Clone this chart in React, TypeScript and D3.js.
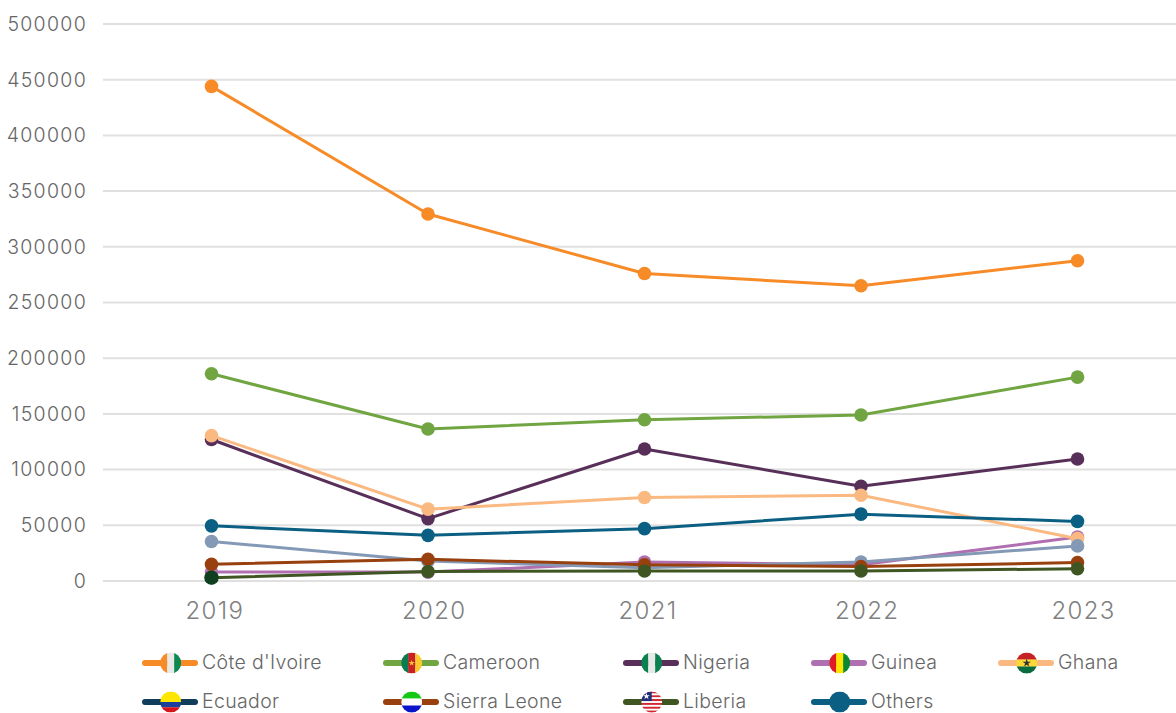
import React from "react";
import * as d3 from "d3";

const years = ["2019", "2020", "2021", "2022", "2023"];
const yTicks = [0, 50000, 100000, 150000, 200000, 250000, 300000, 350000, 400000, 450000, 500000];

const coteDIvoire = [444000, 329500, 276000, 265000, 287500];
const cameroon = [186000, 136500, 144800, 149000, 183000];
const nigeria = [127000, 56000, 118500, 85000, 109500];
const guinea = [8000, 8000, 17000, 14500, 39500];
const ghana = [130500, 64500, 75000, 77000, 38000];
const ecuador = [35500, 18000, 12000, 17000, 31500];
const sierraLeone = [15000, 19500, 14500, 13000, 16500];
const liberia = [3000, 8500, 9000, 9000, 11000];
const others = [49500, 41000, 47000, 60000, 53500];

const FONT = "Inter, 'Open Sans', sans-serif";
const TEXT = "#666";

const lines = [
  { name: "Côte d'Ivoire", values: coteDIvoire, color: "#f68b28" },
  { name: "Cameroon", values: cameroon, color: "#70a542" },
  { name: "Nigeria", values: nigeria, color: "#572f58" },
  { name: "Guinea", values: guinea, color: "#b06fb0" },
  { name: "Ghana", values: ghana, color: "#fbb982" },
  { name: "Ecuador", values: ecuador, color: "#8499b5" },
  { name: "Others", values: others, color: "#0a5f82" },
  { name: "Sierra Leone", values: sierraLeone, color: "#98410f" },
  { name: "Liberia", values: liberia, color: "#3f5623" },
];

const Flag = ({ cx, cy, name, id }: { cx: number; cy: number; name: string; id: string }) => {
  const r = 10.5;
  const x0 = cx - r;
  const y0 = cy - r;
  const d = r * 2;
  const v = (cols: string[]) =>
    cols.map((c, i) => <rect key={i} x={x0 + (i * d) / cols.length} y={y0} width={d / cols.length + 0.3} height={d} fill={c} />);
  const h = (cols: string[]) =>
    cols.map((c, i) => <rect key={i} x={x0} y={y0 + (i * d) / cols.length} width={d} height={d / cols.length + 0.3} fill={c} />);
  let body: React.ReactNode = null;
  if (name === "Côte d'Ivoire") body = v(["#f68b28", "#e8e8e6", "#0a8a50"]);
  if (name === "Cameroon")
    body = (
      <>
        {v(["#0a7a50", "#c62127", "#fdc82f"])}
        <path d={d3.symbol(d3.symbolStar, 12)() || ""} transform={`translate(${cx},${cy})`} fill="#fdc82f" />
      </>
    );
  if (name === "Nigeria") body = v(["#0a8050", "#e8e8e6", "#0a8050"]);
  if (name === "Guinea") body = v(["#e01b24", "#ffe600", "#0a8a30"]);
  if (name === "Ghana")
    body = (
      <>
        {h(["#c62127", "#fdd835", "#0a6b3f"])}
        <path d={d3.symbol(d3.symbolStar, 22)() || ""} transform={`translate(${cx},${cy})`} fill="#333" />
      </>
    );
  if (name === "Ecuador")
    body = (
      <>
        <rect x={x0} y={y0} width={d} height={d / 2} fill="#ffe600" />
        <rect x={x0} y={cy} width={d} height={d / 4} fill="#1a3f9c" />
        <rect x={x0} y={cy + d / 4} width={d} height={d / 4} fill="#d7141a" />
      </>
    );
  if (name === "Sierra Leone") body = h(["#14c814", "#ffffff", "#0a14c8"]);
  if (name === "Liberia") {
    const stripes = d3.range(11).map((i) => (i % 2 === 0 ? "#d22630" : "#ffffff"));
    body = (
      <>
        {h(stripes)}
        <rect x={x0} y={y0} width={r} height={(d * 5) / 11} fill="#1f2f7a" />
        <path d={d3.symbol(d3.symbolStar, 14)() || ""} transform={`translate(${cx - r / 2},${y0 + (d * 5) / 22})`} fill="#fff" />
      </>
    );
  }
  if (name === "Others") body = <rect x={x0} y={y0} width={d} height={d} fill="#0a5f82" />;
  return (
    <g>
      <clipPath id={id}>
        <circle cx={cx} cy={cy} r={r} />
      </clipPath>
      <g clipPath={`url(#${id})`}>{body}</g>
    </g>
  );
};

const legendItems = [
  { name: "Côte d'Ivoire", color: "#f68b28", col: 0, row: 0 },
  { name: "Cameroon", color: "#70a542", col: 1, row: 0 },
  { name: "Nigeria", color: "#572f58", col: 2, row: 0 },
  { name: "Guinea", color: "#b06fb0", col: 3, row: 0 },
  { name: "Ghana", color: "#fbb982", col: 4, row: 0 },
  { name: "Ecuador", color: "#0f3d5a", col: 0, row: 1 },
  { name: "Sierra Leone", color: "#98410f", col: 1, row: 1 },
  { name: "Liberia", color: "#3f5623", col: 2, row: 1 },
  { name: "Others", color: "#0a5f82", col: 3, row: 1 },
];
const legendCols = [142, 383, 623, 811, 998];
const legendRows = [663, 702];

export default function App() {
  const x = d3.scalePoint<string>().domain(years).range([211.5, 1077.5]);
  const y = d3.scaleLinear().domain([0, 500000]).range([581, 24]);
  const line = d3
    .line<number>()
    .x((_, i) => x(years[i]) as number)
    .y((d) => y(d));

  return (
    <svg
      width={1176}
      height={713}
      style={{ position: "fixed", left: 0, top: 0, background: "#fff", fontFamily: FONT }}
    >
      {yTicks.map((t) => (
        <g key={t}>
          <line x1={103} x2={1176} y1={y(t)} y2={y(t)} stroke="#e0e0e0" strokeWidth={2} />
          <text x={87} y={y(t)} dy="0.35em" textAnchor="end" fontSize={19.5} fontWeight={300} letterSpacing={1.3} fill={TEXT}>
            {t}
          </text>
        </g>
      ))}
      {/* Year labels share a fixed left offset from their category position */}
      {years.map((yr) => (
        <text key={yr} x={(x(yr) as number) - 26} y={619} fontSize={24} fontWeight={300} letterSpacing={1.3} fill="#808080">
          {yr}
        </text>
      ))}

      {lines.map((s) => (
        <g key={s.name}>
          <path d={line(s.values) || ""} fill="none" stroke={s.color} strokeWidth={3} strokeLinejoin="round" />
          {s.values.map((v, i) => (
            <circle key={i} cx={x(years[i])} cy={y(v)} r={6.8} fill={s.color} />
          ))}
        </g>
      ))}
      {/* Ecuador's first point sits under Liberia's and darkens it */}
      <circle cx={x("2019")} cy={y(liberia[0])} r={7.2} fill="#0f3f1f" />

      {legendItems.map((it, i) => {
        const lx = legendCols[it.col];
        const ly = legendRows[it.row];
        return (
          <g key={it.name}>
            <line x1={lx + 3} x2={lx + 53} y1={ly} y2={ly} stroke={it.color} strokeWidth={6} strokeLinecap="round" />
            <Flag cx={lx + 28.7} cy={ly} name={it.name} id={`flag-${i}`} />
            <text x={lx + 60} y={ly - 0.5} dy="0.35em" fontSize={19.5} fontWeight={300} letterSpacing={0.35} fill={TEXT}>
              {it.name}
            </text>
          </g>
        );
      })}
    </svg>
  );
}
